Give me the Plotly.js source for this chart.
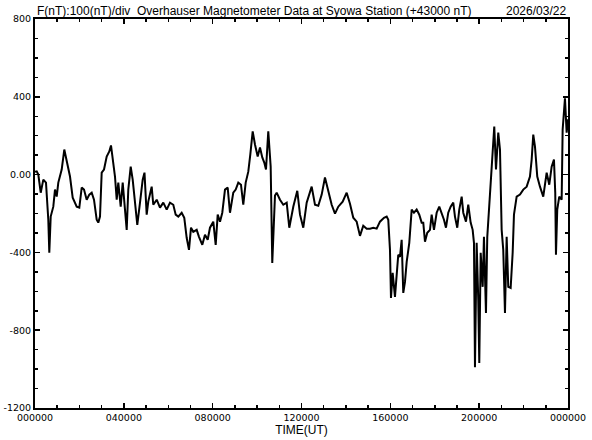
<!DOCTYPE html>
<html>
<head>
<meta charset="utf-8">
<script src="https://cdn.plot.ly/plotly-3.0.1.min.js"></script>
<style>
html,body{margin:0;padding:0;background:#fff;}
#chart{width:592px;height:440px;}
</style>
</head>
<body>
<div id="chart"></div>
<script>
// Time of day in hours (UT)
const timeHours = [
0.00,0.077,0.149,0.257,0.374,0.495,0.599,0.644,0.707,0.824,0.900,0.977,1.049,1.202,1.319,1.427,1.576,1.697,1.878,1.995,
2.103,2.206,2.328,2.445,2.553,2.656,2.778,2.850,2.927,3.003,3.107,3.228,3.345,3.422,3.498,3.602,3.679,3.751,3.859,3.949,
4.052,4.129,4.201,4.309,4.399,4.503,4.606,4.728,4.849,4.930,5.029,5.101,5.254,5.326,5.480,5.628,5.777,5.930,6.078,6.227,
6.335,6.452,6.605,6.722,6.830,6.934,7.024,7.127,7.280,7.384,7.533,7.654,7.776,7.879,8.028,8.136,8.226,8.330,8.433,8.555,
8.676,8.780,8.928,9.037,9.154,9.275,9.379,9.487,9.604,9.694,9.802,9.905,10.027,10.131,10.234,10.324,10.401,10.504,10.612,10.684,
10.806,10.882,11.031,11.180,11.333,11.450,11.630,11.810,11.932,12.080,12.233,12.458,12.607,12.756,12.909,13.057,13.206,13.359,13.508,13.656,
13.854,14.034,14.183,14.331,14.484,14.633,14.782,14.935,15.083,15.232,15.385,15.534,15.714,15.835,15.907,15.984,16.029,16.105,16.209,16.285,
16.357,16.434,16.510,16.583,16.659,16.736,16.853,16.961,17.064,17.186,17.303,17.411,17.483,17.560,17.663,17.785,17.861,17.965,18.086,18.203,
18.311,18.415,18.505,18.608,18.717,18.834,18.910,19.014,19.104,19.212,19.284,19.406,19.509,19.617,19.707,19.766,19.811,19.887,19.959,20.005,
20.068,20.158,20.216,20.306,20.365,20.455,20.563,20.635,20.680,20.757,20.860,20.937,21.013,21.085,21.162,21.238,21.310,21.418,21.508,21.567,
21.688,21.837,21.986,22.139,22.287,22.364,22.436,22.513,22.616,22.738,22.886,23.039,23.156,23.264,23.368,23.426,23.458,23.516,23.606,23.714,
23.759,23.863,23.939,24.0
];
// F minus 43000 nT
const fValues = [
15,17,0,-93,-26,-41,-232,-402,-216,-165,-77,-113,-41,26,129,62,-10,-119,-165,-170,
-67,-77,-129,-103,-93,-129,-232,-247,-216,10,26,93,119,150,77,-10,-129,-41,-165,-41,
-180,-284,-77,41,-26,-165,-258,-144,-26,10,-206,-139,-62,-155,-129,-170,-144,-180,-144,-155,
-206,-216,-196,-222,-325,-387,-273,-294,-284,-320,-361,-309,-335,-273,-242,-361,-206,-242,-196,-77,
-67,-196,-93,-77,-41,-52,-155,-41,15,103,222,155,93,139,88,62,26,222,41,-454,
-108,-93,-129,-155,-144,-273,-165,-83,-206,-273,-144,-62,-155,-160,-103,-15,-88,-155,-201,-165,
-139,-93,-150,-222,-242,-315,-263,-278,-278,-273,-278,-242,-222,-216,-232,-387,-634,-505,-629,-490,
-412,-423,-335,-608,-552,-449,-351,-180,-196,-180,-206,-247,-247,-345,-299,-284,-206,-284,-196,-165,
-196,-232,-273,-196,-165,-144,-216,-273,-180,-113,-196,-242,-155,-247,-284,-351,-990,-351,-644,-969,
-402,-577,-320,-711,-320,-165,10,165,247,26,216,129,-284,-387,-711,-320,-577,-583,-402,-206,
-113,-103,-77,-62,-10,77,206,144,-10,-62,-113,10,-52,41,77,-93,-412,-180,-113,-129,
232,392,216,284
];
const xTickVals = [0,4,8,12,16,20,24];
const xTickText = ['000000','040000','080000','120000','160000','200000','000000'];
const yTickVals = [-1200,-800,-400,0,400,800];
const yTickText = ['-1200','-800','-400','0.00','400','800'];

const tickFont = {family:'DejaVu Sans, sans-serif', size:9.5, color:'#000'};

const trace = {
  x: timeHours, y: fValues, type:'scatter', mode:'lines',
  line:{color:'#000', width:2}, hoverinfo:'skip'
};

const layout = {
  width:592, height:440,
  margin:{l:35, r:24, t:19, b:32, pad:0},
  paper_bgcolor:'#fff', plot_bgcolor:'#fff',
  showlegend:false,
  xaxis:{
    range:[0,24], tickmode:'array', tickvals:xTickVals, ticktext:xTickText,
    showgrid:false, zeroline:false, showline:true, linecolor:'#000', linewidth:2,
    mirror:'ticks', ticks:'inside', ticklen:5, tickwidth:1.5, tickcolor:'#000',
    minor:{dtick:1, tick0:0, ticks:'inside', ticklen:3, tickwidth:1.5, tickcolor:'#000', showgrid:false},
    tickfont:tickFont,
    title:{text:'TIME(UT)', font:{family:'Liberation Sans, Arial, sans-serif', size:12, color:'#000'}, standoff:0}
  },
  yaxis:{
    range:[-1200,800], tickmode:'array', tickvals:yTickVals, ticktext:yTickText,
    showgrid:false, zeroline:false, showline:true, linecolor:'#000', linewidth:2,
    mirror:'ticks', ticks:'inside', ticklen:5, tickwidth:1.5, tickcolor:'#000',
    minor:{dtick:100, tick0:0, ticks:'inside', ticklen:3, tickwidth:1.5, tickcolor:'#000', showgrid:false},
    tickfont:tickFont
  },
  annotations:[
    {xref:'paper', yref:'paper', x:0, y:1, xanchor:'left', yanchor:'bottom', yshift:-1, showarrow:false,
     text:'F(nT):100(nT)/div  Overhauser Magnetometer Data at Syowa Station (+43000 nT)',
     font:{family:'Liberation Sans, Arial, sans-serif', size:12, color:'#000'}},
    {xref:'paper', yref:'paper', x:1, y:1, xanchor:'right', yanchor:'bottom', yshift:-1, showarrow:false,
     text:'2026/03/22',
     font:{family:'Liberation Sans, Arial, sans-serif', size:12, color:'#000'}}
  ]
};

Plotly.newPlot('chart',[trace],layout,{staticPlot:true, displayModeBar:false});
</script>
</body>
</html>
